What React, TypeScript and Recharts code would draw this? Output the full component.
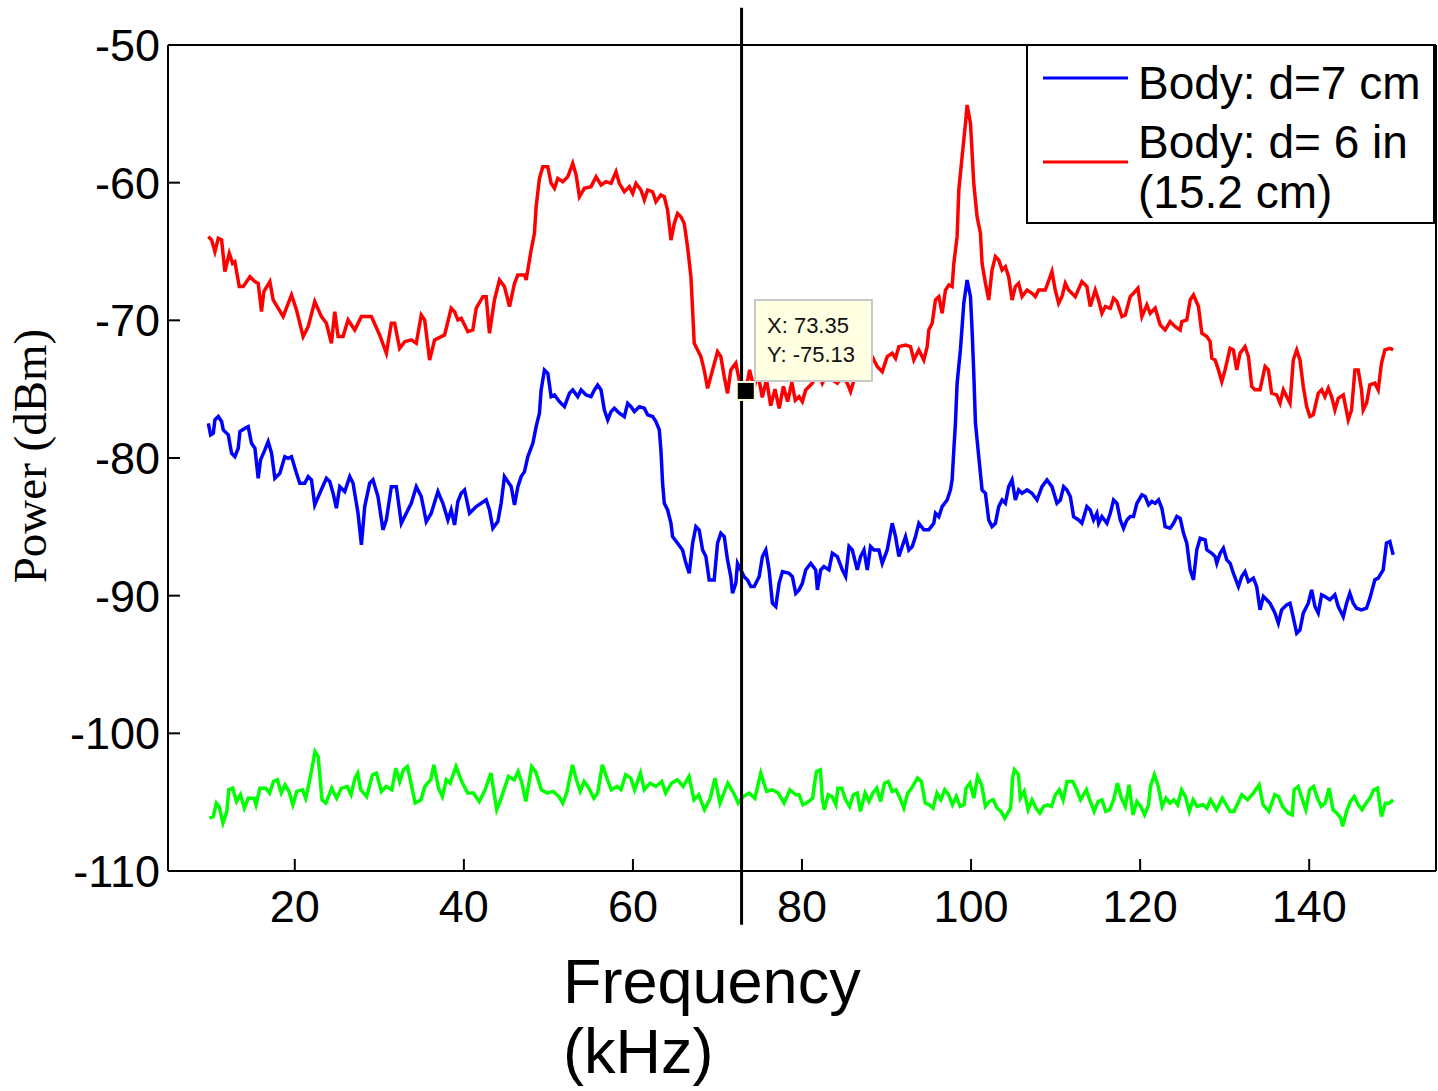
import React from 'react';
import { LineChart, Line, XAxis, YAxis, ReferenceLine, ReferenceDot } from 'recharts';

// [frequency kHz, power dBm]
const redTrace: [number, number][] = [
  [9.77,-63.92],[10.16,-64.16],[10.55,-65.01],[10.95,-64.04],[11.34,-64.16],[11.73,-66.46],[12.25,-65.13],[12.64,-65.86],[12.91,-65.74],[13.43,-67.55],
  [13.9,-67.55],[14.69,-66.83],[15.28,-67.19],[15.67,-67.31],[16.06,-69.37],[16.34,-67.91],[17.05,-67.19],[17.44,-68.52],[18.03,-69.12],[18.62,-69.73],
  [19.61,-68.16],[20.2,-69.25],[20.99,-71.18],[21.58,-70.46],[22.36,-68.64],[23.15,-69.73],[23.74,-70.21],[24.33,-71.67],[24.73,-69.37],[25.12,-71.18],
  [25.71,-71.18],[26.3,-69.97],[27.09,-70.7],[27.88,-69.73],[29.06,-69.73],[30.04,-71.06],[30.83,-72.39],[31.42,-70.21],[31.81,-70.21],[32.4,-72.03],
  [33.0,-71.55],[33.78,-71.42],[34.37,-71.67],[34.96,-69.61],[35.36,-69.97],[35.95,-72.88],[36.54,-71.42],[37.72,-71.06],[38.5,-69.12],[38.9,-69.37],
  [39.29,-69.97],[39.69,-69.85],[40.47,-70.82],[41.06,-70.7],[41.46,-69.12],[42.25,-68.28],[42.64,-68.28],[43.03,-70.94],[43.62,-68.52],[44.21,-67.07],
  [44.8,-67.55],[45.4,-69.0],[45.99,-67.31],[46.39,-66.71],[47.17,-66.71],[47.37,-67.07],[47.96,-64.89],[48.35,-63.68],[48.55,-61.75],[48.94,-59.69],
  [49.34,-58.84],[49.93,-58.84],[50.32,-60.05],[50.72,-60.41],[51.11,-59.69],[51.7,-59.93],[52.29,-59.57],[52.88,-58.6],[53.28,-59.45],[53.67,-61.02],
  [54.26,-60.41],[55.05,-60.29],[55.64,-59.57],[56.23,-60.17],[56.82,-59.93],[57.41,-60.05],[58.0,-59.2],[58.39,-60.05],[58.98,-60.66],[59.57,-60.29],
  [59.97,-60.78],[60.36,-60.05],[60.95,-60.53],[61.35,-61.26],[61.74,-60.53],[62.33,-60.66],[62.72,-61.38],[63.31,-60.9],[63.71,-61.02],[64.1,-61.99],
  [64.5,-64.17],[64.89,-62.96],[65.28,-62.23],[65.68,-62.47],[66.07,-62.96],[66.46,-64.65],[66.86,-66.83],[67.06,-69.25],[67.25,-71.67],[67.65,-72.15],
  [68.04,-72.64],[68.43,-73.61],[68.83,-74.94],[69.42,-73.61],[70.01,-72.28],[70.4,-72.64],[70.8,-74.09],[71.19,-75.3],[71.58,-73.61],[72.17,-73.12],
  [72.57,-74.33],[73.35,-75.13],[73.8,-73.6],[74.3,-74.9],[74.8,-73.9],[75.3,-75.6],[75.8,-74.3],[76.3,-76.2],[76.8,-75.0],[77.3,-76.4],
  [77.8,-74.8],[78.3,-75.9],[78.8,-74.5],[79.2,-75.8],[79.65,-75.54],[80.04,-75.9],[80.44,-75.06],[81.22,-74.57],[81.62,-74.09],[82.01,-73.85],
  [82.41,-74.57],[82.8,-74.09],[83.59,-74.33],[84.18,-74.57],[84.77,-74.09],[85.36,-74.57],[85.75,-75.18],[86.15,-74.33],[86.34,-73.85],[86.93,-73.36],
  [87.52,-72.64],[88.31,-72.64],[88.9,-73.36],[89.49,-73.73],[90.08,-72.64],[90.67,-72.39],[91.07,-72.76],[91.46,-71.91],[92.25,-71.79],[92.84,-71.91],
  [93.23,-72.88],[93.82,-72.15],[94.41,-72.88],[94.81,-71.91],[95.0,-70.7],[95.4,-70.21],[95.79,-68.52],[96.19,-68.28],[96.58,-69.49],[96.97,-67.8],
  [97.37,-67.43],[97.76,-67.55],[97.96,-65.86],[98.35,-63.92],[98.55,-60.53],[98.94,-58.11],[99.34,-55.69],[99.53,-54.36],[99.93,-55.69],[100.32,-60.05],
  [100.71,-62.47],[101.11,-63.68],[101.3,-65.86],[101.7,-67.31],[102.09,-68.52],[102.48,-66.34],[102.88,-65.37],[103.27,-65.62],[103.67,-66.34],[104.06,-66.1],
  [104.45,-66.83],[104.85,-68.52],[105.24,-67.55],[105.63,-67.31],[106.03,-68.28],[106.62,-67.8],[107.21,-68.04],[107.6,-68.28],[108.0,-67.8],[108.78,-67.8],
  [109.57,-66.46],[109.96,-67.8],[110.36,-68.76],[110.75,-68.28],[111.15,-67.31],[111.54,-67.8],[112.33,-68.28],[113.11,-67.19],[113.7,-67.55],[114.1,-69.0],
  [114.69,-67.8],[115.08,-68.52],[115.48,-69.49],[115.88,-69.0],[116.47,-69.12],[116.86,-68.4],[117.26,-68.64],[117.85,-69.73],[118.24,-69.61],[118.83,-68.28],
  [119.22,-68.03],[119.74,-67.67],[120.21,-69.73],[120.8,-68.88],[121.19,-69.49],[121.78,-69.12],[122.37,-70.33],[122.96,-70.7],[123.55,-70.09],[124.15,-70.46],
  [124.74,-70.7],[124.93,-70.09],[125.52,-69.97],[125.92,-68.52],[126.31,-68.16],[126.9,-69.0],[127.3,-70.94],[127.89,-71.18],[128.28,-71.54],[128.48,-72.75],
  [128.87,-72.88],[129.26,-73.6],[129.66,-74.45],[130.05,-73.6],[130.64,-72.03],[131.03,-72.15],[131.43,-73.6],[131.82,-72.39],[132.41,-71.91],[132.81,-72.63],
  [133.2,-74.81],[133.59,-75.05],[134.18,-75.05],[134.78,-73.36],[135.17,-73.6],[135.56,-75.3],[136.15,-75.42],[136.55,-76.02],[136.94,-75.05],[137.33,-75.54],
  [137.73,-76.02],[138.12,-72.88],[138.52,-72.15],[138.91,-72.88],[139.3,-74.81],[139.7,-76.26],[140.09,-76.99],[140.48,-76.87],[141.07,-75.3],[141.47,-75.05],
  [141.86,-75.54],[142.26,-74.93],[142.65,-75.54],[143.04,-76.51],[143.44,-75.66],[144.03,-75.42],[144.62,-77.23],[145.01,-76.51],[145.41,-73.6],[145.8,-73.6],
  [146.19,-75.05],[146.39,-76.51],[146.78,-76.02],[147.18,-74.69],[147.77,-74.57],[148.16,-75.05],[148.55,-73.12],[148.95,-72.15],[149.54,-72.03],[149.93,-72.15],
];

const blueTrace: [number, number][] = [
  [9.77,-77.48],[10.04,-78.32],[10.36,-78.2],[10.55,-77.23],[10.95,-76.99],[11.34,-77.35],[11.54,-77.96],[12.13,-78.32],[12.52,-79.65],[12.91,-79.9],
  [13.31,-79.29],[13.51,-78.08],[14.1,-77.84],[14.49,-77.72],[14.88,-78.93],[15.28,-79.29],[15.67,-81.47],[15.95,-80.14],[16.46,-79.41],[16.85,-78.81],
  [17.25,-79.65],[17.64,-81.47],[18.23,-81.11],[18.82,-79.9],[19.21,-80.02],[19.61,-79.9],[20.2,-81.11],[20.59,-81.83],[21.18,-81.83],[21.58,-81.35],
  [21.97,-81.59],[22.36,-83.41],[22.95,-82.56],[23.74,-81.47],[24.13,-81.71],[24.53,-82.56],[24.92,-83.65],[25.32,-82.08],[25.91,-82.44],[26.5,-81.35],
  [26.89,-81.83],[27.48,-84.01],[27.88,-86.31],[28.27,-83.53],[28.86,-81.83],[29.25,-81.59],[29.84,-82.8],[30.43,-85.22],[30.83,-84.5],[31.42,-82.08],
  [32.01,-82.08],[32.6,-84.74],[33.19,-84.01],[33.78,-83.29],[34.37,-82.08],[34.96,-82.8],[35.55,-84.62],[36.14,-84.01],[36.93,-82.44],[37.52,-83.29],
  [38.11,-84.5],[38.5,-83.77],[38.9,-84.86],[39.29,-83.16],[39.69,-82.56],[40.08,-82.32],[40.67,-84.01],[41.46,-83.53],[42.05,-83.29],[42.64,-83.04],
  [43.03,-83.77],[43.43,-85.1],[44.02,-84.62],[44.41,-83.29],[44.8,-81.35],[45.6,-82.08],[45.99,-83.41],[46.39,-82.08],[46.78,-81.35],[47.17,-80.99],
  [47.57,-79.9],[48.16,-78.93],[48.55,-77.72],[48.94,-76.75],[49.14,-75.06],[49.53,-73.61],[49.93,-73.85],[50.32,-75.54],[50.72,-75.42],[51.31,-75.91],
  [51.9,-76.27],[52.49,-75.3],[52.88,-75.06],[53.47,-75.54],[53.87,-75.06],[54.46,-75.42],[55.05,-75.54],[55.44,-75.06],[55.83,-74.7],[56.23,-75.06],
  [56.62,-76.51],[57.02,-77.24],[57.41,-76.63],[57.8,-76.39],[58.39,-76.75],[58.98,-76.99],[59.38,-76.03],[59.77,-76.27],[60.17,-76.63],[60.76,-76.27],
  [61.35,-76.39],[61.74,-76.87],[62.33,-76.99],[62.72,-77.36],[63.12,-77.96],[63.31,-79.42],[63.51,-81.84],[63.71,-83.29],[64.1,-83.77],[64.5,-84.74],
  [64.69,-85.71],[65.28,-86.19],[65.87,-86.68],[66.27,-87.65],[66.66,-88.37],[67.06,-86.19],[67.45,-84.98],[67.84,-85.23],[68.24,-86.68],[68.63,-87.16],
  [69.02,-88.86],[69.61,-88.86],[70.01,-86.19],[70.4,-85.47],[70.8,-85.71],[71.19,-87.4],[71.58,-88.62],[71.78,-89.83],[72.17,-89.1],[72.37,-87.65],
  [72.76,-88.13],[73.16,-88.62],[73.55,-88.86],[73.95,-89.34],[74.34,-89.34],[74.93,-88.62],[75.32,-87.16],[75.72,-86.68],[76.11,-88.13],[76.5,-90.55],
  [76.9,-90.79],[77.29,-89.1],[77.69,-88.25],[78.47,-88.37],[78.86,-88.62],[79.26,-89.83],[79.65,-89.58],[80.04,-89.1],[80.44,-88.13],[81.03,-87.65],
  [81.62,-88.13],[81.82,-89.58],[82.21,-88.13],[82.6,-87.89],[83.19,-88.13],[83.59,-86.92],[84.18,-87.16],[84.77,-88.13],[85.16,-88.61],[85.56,-86.43],
  [85.95,-86.68],[86.54,-88.13],[86.93,-87.16],[87.33,-86.68],[87.72,-88.13],[88.11,-86.43],[88.51,-86.68],[89.1,-86.68],[89.49,-87.65],[90.08,-86.68],
  [90.67,-84.74],[91.07,-85.71],[91.46,-87.16],[91.85,-86.43],[92.25,-85.71],[92.64,-86.68],[93.04,-86.43],[93.43,-85.71],[93.82,-84.74],[94.41,-85.22],
  [95.0,-85.22],[95.59,-84.74],[95.79,-84.01],[96.19,-84.26],[96.58,-83.53],[97.17,-83.05],[97.56,-82.32],[97.76,-81.59],[97.96,-79.41],[98.15,-77.48],
  [98.35,-74.57],[98.74,-72.15],[99.14,-68.76],[99.53,-67.07],[99.93,-68.28],[100.12,-70.7],[100.32,-73.85],[100.52,-77.48],[100.91,-79.9],[101.3,-82.32],
  [101.7,-82.56],[102.09,-84.5],[102.48,-84.98],[102.88,-84.74],[103.27,-83.53],[103.67,-83.05],[104.06,-83.29],[104.45,-82.08],[104.85,-81.59],[105.24,-83.05],
  [105.63,-82.32],[106.03,-82.56],[106.62,-82.32],[107.21,-82.56],[107.8,-83.05],[108.39,-82.08],[108.98,-81.59],[109.57,-82.08],[110.16,-83.29],[110.56,-83.05],
  [110.95,-82.08],[111.34,-82.32],[111.74,-82.8],[112.13,-84.26],[112.72,-84.5],[113.11,-84.74],[113.7,-83.53],[114.1,-83.77],[114.49,-84.5],[114.89,-84.01],
  [115.09,-84.74],[115.48,-84.25],[116.07,-84.74],[116.47,-84.01],[116.86,-83.04],[117.26,-83.29],[117.65,-84.5],[118.04,-85.1],[118.44,-84.5],[118.83,-84.25],
  [119.22,-84.25],[119.62,-83.29],[120.21,-82.68],[120.6,-82.8],[121.0,-83.41],[121.39,-83.16],[121.78,-83.29],[122.18,-83.04],[122.57,-83.65],[122.96,-84.98],
  [123.55,-85.1],[123.95,-84.74],[124.34,-84.25],[124.74,-84.38],[125.13,-85.46],[125.52,-86.19],[125.92,-88.13],[126.31,-88.85],[126.7,-86.67],[127.1,-85.83],
  [127.69,-85.95],[127.89,-86.67],[128.48,-86.92],[128.87,-87.16],[129.07,-87.64],[129.46,-86.92],[129.85,-86.55],[130.25,-87.4],[130.64,-87.64],[131.03,-88.37],
  [131.63,-89.34],[132.02,-88.61],[132.41,-88.25],[132.81,-88.97],[133.4,-88.73],[133.79,-89.34],[134.18,-91.03],[134.58,-90.06],[134.97,-90.3],[135.37,-90.55],
  [135.96,-91.27],[136.35,-92.0],[136.74,-91.03],[137.33,-90.67],[137.73,-90.55],[137.92,-91.03],[138.52,-92.73],[138.91,-92.48],[139.3,-91.27],[139.89,-90.55],
  [140.29,-89.58],[140.68,-90.79],[141.07,-91.27],[141.47,-89.94],[141.86,-90.06],[142.45,-90.3],[143.04,-89.94],[143.44,-90.79],[144.03,-91.52],[144.42,-90.55],
  [144.81,-89.82],[145.21,-90.55],[145.6,-90.91],[146.19,-91.03],[146.78,-90.91],[147.18,-90.18],[147.77,-88.85],[148.16,-88.73],[148.75,-88.13],[149.14,-86.19],
  [149.54,-86.07],[149.93,-87.04],
];

const greenTrace: [number, number][] = [
  [9.9,-106.16],[10.36,-106.04],[10.72,-105.07],[11.05,-105.31],[11.5,-106.52],[11.96,-105.67],[12.19,-104.1],[12.65,-103.98],[13.11,-104.95],[13.57,-104.46],
  [14.03,-105.43],[14.49,-104.71],[15.18,-104.71],[15.41,-105.19],[15.87,-103.98],[16.56,-103.98],[17.02,-104.34],[17.48,-103.5],[17.94,-103.37],[18.4,-104.34],
  [18.85,-103.74],[19.31,-104.22],[19.77,-105.19],[20.23,-104.22],[20.92,-104.1],[21.29,-104.71],[21.61,-103.86],[22.07,-102.41],[22.39,-101.32],[22.76,-101.68],
  [23.22,-104.83],[23.68,-105.07],[24.37,-103.98],[24.96,-104.71],[25.51,-103.98],[26.2,-103.86],[26.66,-104.46],[27.12,-103.25],[27.44,-102.89],[27.81,-104.1],
  [28.5,-104.59],[29.19,-103.01],[29.65,-102.89],[30.25,-104.22],[30.8,-103.86],[31.49,-104.1],[31.95,-102.53],[32.41,-103.5],[32.86,-102.65],[33.32,-102.41],
  [33.78,-103.74],[34.24,-105.07],[34.93,-104.83],[35.39,-103.86],[36.08,-103.37],[36.45,-102.29],[37.0,-103.98],[37.46,-104.59],[37.92,-103.37],[38.38,-103.62],
  [39.07,-102.41],[39.75,-103.5],[40.44,-104.34],[41.13,-104.34],[41.82,-104.95],[42.51,-104.1],[43.2,-102.89],[43.89,-105.55],[44.35,-104.83],[44.81,-103.98],
  [45.27,-103.13],[45.96,-103.37],[46.42,-102.77],[46.87,-103.62],[47.33,-104.95],[48.02,-102.41],[48.48,-102.77],[49.17,-104.1],[49.86,-104.34],[50.55,-104.22],
  [51.24,-104.59],[51.7,-105.07],[52.16,-104.34],[52.85,-102.29],[53.31,-103.37],[53.77,-104.22],[54.22,-103.5],[54.68,-103.86],[55.37,-104.71],[55.83,-104.34],
  [56.38,-102.29],[56.98,-103.37],[57.44,-104.1],[58.13,-103.86],[58.59,-104.1],[59.14,-103.01],[59.74,-103.25],[60.2,-104.1],[60.89,-102.89],[61.34,-104.1],
  [62.03,-103.62],[62.72,-103.86],[63.41,-103.5],[63.87,-104.34],[64.56,-103.62],[65.25,-103.37],[65.94,-103.86],[66.63,-103.13],[67.22,-104.83],[67.78,-104.46],
  [68.46,-105.55],[69.15,-104.71],[69.7,-103.25],[70.3,-105.07],[71.22,-103.62],[71.91,-104.34],[72.46,-105.07],[73.06,-104.59],[73.75,-104.34],[74.43,-104.71],
  [75.12,-102.89],[75.81,-104.22],[76.5,-104.1],[77.19,-104.34],[77.88,-105.07],[78.57,-104.1],[79.26,-104.46],[79.65,-104.46],[80.11,-105.19],[80.8,-104.95],
  [81.26,-104.71],[81.49,-103.62],[81.72,-102.77],[82.18,-102.65],[82.41,-104.83],[82.64,-105.55],[83.1,-104.46],[83.55,-104.59],[84.01,-105.19],[84.24,-103.98],
  [84.7,-103.98],[85.16,-104.83],[85.62,-105.31],[86.08,-104.46],[86.54,-104.34],[86.91,-105.67],[87.46,-104.34],[87.92,-104.95],[88.38,-104.34],[88.84,-103.98],
  [89.3,-104.95],[89.76,-103.62],[90.21,-103.5],[90.67,-104.22],[91.13,-104.1],[91.59,-104.71],[92.05,-105.43],[92.51,-104.34],[92.97,-103.98],[93.66,-103.25],
  [94.12,-103.5],[94.58,-105.07],[95.04,-105.19],[95.5,-105.43],[95.96,-104.34],[96.42,-104.83],[96.88,-104.1],[97.34,-104.46],[97.79,-105.19],[98.25,-104.59],
  [98.71,-105.31],[99.17,-105.19],[99.4,-103.98],[99.86,-103.62],[100.32,-104.71],[100.78,-103.13],[101.24,-103.74],[101.7,-105.31],[102.16,-104.95],[102.62,-104.83],
  [103.08,-105.43],[103.54,-105.67],[103.99,-106.16],[104.68,-105.43],[104.91,-103.25],[105.14,-102.65],[105.6,-103.01],[105.83,-104.71],[106.29,-104.22],[106.75,-105.55],
  [107.21,-104.83],[107.67,-105.43],[108.13,-105.8],[108.59,-105.31],[109.05,-105.19],[109.51,-105.31],[109.97,-104.46],[110.43,-104.1],[110.89,-104.83],[111.35,-103.5],
  [112.03,-103.5],[112.49,-104.1],[112.95,-104.83],[113.64,-104.1],[114.1,-104.95],[114.56,-105.67],[115.02,-104.95],[115.48,-104.83],[115.94,-105.67],[116.4,-105.55],
  [116.86,-104.83],[117.32,-103.62],[117.78,-104.71],[118.24,-105.31],[118.69,-103.74],[119.15,-105.92],[119.61,-104.95],[120.07,-105.31],[120.53,-105.92],[120.99,-105.19],
  [121.22,-103.86],[121.68,-103.01],[122.14,-103.86],[122.6,-105.31],[123.06,-104.71],[123.52,-105.07],[123.98,-104.83],[124.44,-105.19],[124.9,-104.1],[125.36,-104.59],
  [125.82,-105.67],[126.27,-104.83],[126.73,-105.31],[127.42,-105.19],[127.88,-105.43],[128.34,-104.83],[129.03,-105.55],[129.72,-104.71],[130.18,-105.19],[130.64,-105.67],
  [131.1,-105.67],[131.56,-105.07],[132.02,-104.46],[132.71,-104.83],[133.39,-104.34],[134.08,-103.74],[134.54,-105.19],[135.23,-105.67],[135.92,-104.46],[136.38,-104.59],
  [136.84,-105.31],[137.53,-105.8],[137.99,-105.92],[138.22,-104.1],[138.68,-103.86],[139.14,-104.71],[139.6,-105.55],[140.05,-104.1],[140.51,-103.86],[140.97,-104.71],
  [141.43,-105.31],[141.89,-105.07],[142.35,-103.98],[142.81,-105.55],[143.27,-105.8],[143.73,-106.16],[143.96,-106.76],[144.42,-105.67],[144.88,-104.95],[145.34,-104.59],
  [145.8,-105.19],[146.26,-105.55],[146.72,-105.07],[147.18,-104.71],[147.63,-104.1],[148.09,-103.98],[148.55,-106.04],[149.01,-105.07],[149.47,-105.07],[149.93,-104.83],
];

const xTicks = [20, 40, 60, 80, 100, 120, 140];
const yTicks = [-110, -100, -90, -80, -70, -60, -50];
const xDomain: [number, number] = [5, 155];
const yDomain: [number, number] = [-110, -50];

const cursorX = 72.85;
const markerPoint = { f: 73.35, p: -75.13 };
const legendLabels = ['Body: d=7 cm', 'Body: d= 6 in', '(15.2 cm)'];

const toRows = (t: [number, number][]) => t.map(([f, p]) => ({ f, p }));
const redData = toRows(redTrace);
const blueData = toRows(blueTrace);
const greenData = toRows(greenTrace);

const SANS = 'Liberation Sans, Arial, sans-serif';
const SERIF = 'Liberation Serif, Times New Roman, serif';

const tickStyle = { fontSize: 45, fill: '#000', fontFamily: SANS };

const MarkerShape = (props: any) => {
  const { cx, cy } = props;
  return (
    <g>
      <rect x={cx - 10} y={cy - 10} width={20} height={20} fill="#fffbe0" />
      <rect x={cx - 8} y={cy - 8} width={16} height={16} fill="#000" />
    </g>
  );
};

export default function App() {
  return (
    <div style={{ position: 'absolute', left: 0, top: 0, width: 1438, height: 1091, background: '#fff' }}>
      <LineChart
        width={1438}
        height={1091}
        margin={{ top: 44, right: 1, bottom: 0, left: 0 }}
      >
        <XAxis
          dataKey="f"
          type="number"
          domain={xDomain}
          ticks={xTicks}
          allowDataOverflow
          height={220}
          axisLine={{ stroke: '#000', strokeWidth: 2 }}
          tickLine={{ stroke: '#000', strokeWidth: 2 }}
          tickSize={-12}
          tickMargin={31}
          tick={tickStyle}
          interval={0}
        />
        <XAxis
          xAxisId="top"
          orientation="top"
          dataKey="f"
          type="number"
          domain={xDomain}
          ticks={xTicks}
          height={1}
          axisLine={{ stroke: '#000', strokeWidth: 2 }}
          tickLine={{ stroke: '#000', strokeWidth: 2 }}
          tickSize={-12}
          tick={false}
          interval={0}
        />
        <YAxis
          type="number"
          domain={yDomain}
          ticks={yTicks}
          allowDataOverflow
          width={168}
          axisLine={{ stroke: '#000', strokeWidth: 2 }}
          tickLine={{ stroke: '#000', strokeWidth: 2 }}
          tickSize={-12}
          tickMargin={20}
          tick={tickStyle}
          interval={0}
        />
        <YAxis
          yAxisId="right"
          orientation="right"
          type="number"
          domain={yDomain}
          ticks={yTicks}
          width={1}
          axisLine={{ stroke: '#000', strokeWidth: 2 }}
          tickLine={{ stroke: '#000', strokeWidth: 2 }}
          tickSize={-12}
          tick={false}
          interval={0}
        />
        <Line data={redData} dataKey="p" stroke="#ff0000" strokeWidth={3.5} dot={false} isAnimationActive={false} type="linear" />
        <Line data={blueData} dataKey="p" stroke="#0000ff" strokeWidth={3.5} dot={false} isAnimationActive={false} type="linear" />
        <Line data={greenData} dataKey="p" stroke="#00ff00" strokeWidth={3.5} dot={false} isAnimationActive={false} type="linear" />
        <ReferenceLine
          segment={[{ x: cursorX, y: -47.3 }, { x: cursorX, y: -113.9 }]}
          stroke="#000"
          strokeWidth={3}
          ifOverflow="visible"
        />
        <ReferenceDot x={markerPoint.f} y={markerPoint.p} r={8} shape={MarkerShape} ifOverflow="visible" />
      </LineChart>

      <svg
        width={1438}
        height={1091}
        style={{ position: 'absolute', left: 0, top: 0, pointerEvents: 'none' }}
      >
        {/* Legend */}
        <rect x={1027} y={45} width={407} height={178} fill="#fff" stroke="#000" strokeWidth={2} />
        <line x1={1043} y1={78} x2={1128} y2={78} stroke="#0000ff" strokeWidth={3} />
        <line x1={1043} y1={162} x2={1128} y2={162} stroke="#ff0000" strokeWidth={3} />
        <text x={1138} y={99} fontSize={46} fontFamily={SANS} fill="#000">{legendLabels[0]}</text>
        <text x={1138} y={158} fontSize={46} fontFamily={SANS} fill="#000">{legendLabels[1]}</text>
        <text x={1138} y={208} fontSize={46} fontFamily={SANS} fill="#000">{legendLabels[2]}</text>

        {/* Data tip */}
        <rect x={755} y={300} width={117} height={81} fill="#ffffe1" stroke="#c8c8c8" strokeWidth={2} />
        <text x={767} y={333} fontSize={22} fontFamily={SANS} fill="#111">{`X: ${markerPoint.f}`}</text>
        <text x={767} y={362} fontSize={22} fontFamily={SANS} fill="#111">{`Y: ${markerPoint.p}`}</text>

        {/* Axis titles */}
        <text
          transform="translate(46,456) rotate(-90)"
          textAnchor="middle"
          fontSize={47}
          fontFamily={SERIF}
          fill="#000"
        >
          Power (dBm)
        </text>
        <text x={563} y={1003} fontSize={63} fontFamily={SANS} fill="#000">Frequency</text>
        <text x={563} y={1073} fontSize={63} fontFamily={SANS} fill="#000">(kHz)</text>
      </svg>
    </div>
  );
}
